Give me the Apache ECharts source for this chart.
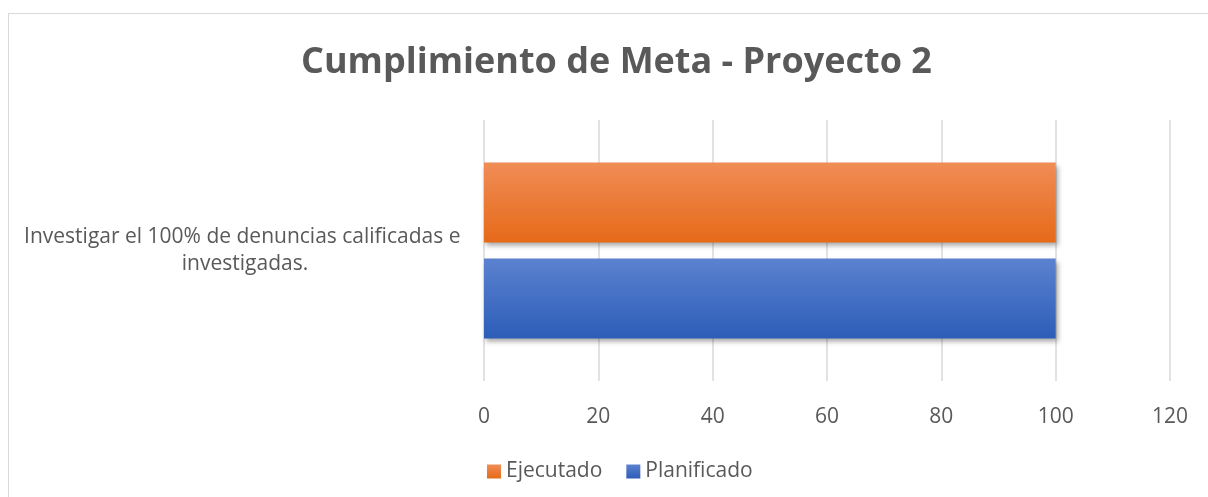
<!DOCTYPE html>
<html>
<head>
<meta charset="utf-8">
<script src="https://cdn.jsdelivr.net/npm/echarts@6/dist/echarts.min.js"></script>
<style>
  html, body { margin: 0; padding: 0; background: #fff; }
  #wrap { position: relative; width: 1208px; height: 497px; overflow: hidden; }
  #frame { position: absolute; left: 8px; top: 13px; width: 1300px; height: 600px; border: 1px solid #d9d9d9; }
  #chart { position: absolute; left: 0; top: 0; width: 1208px; height: 497px; }
</style>
</head>
<body>
<div id="wrap">
  <div id="frame"></div>
  <div id="chart"></div>
</div>
<script>
// datos
var categorias = ['Investigar el 100% de denuncias calificadas e investigadas.'];
var planificado = [100];
var ejecutado = [100];
var ticks = [0, 20, 40, 60, 80, 100, 120];

var fuente = '"Open Sans", "Noto Sans", sans-serif';
var gris = '#595959';

function degradado(c1, c2) { // color de barra con degradado vertical
  return new echarts.graphic.LinearGradient(0, 0, 0, 1, [
    { offset: 0, color: c1 },
    { offset: 1, color: c2 }
  ]);
}

var chart = echarts.init(document.getElementById('chart'));

var sombra = { shadowColor: 'rgba(0,0,0,0.35)', shadowBlur: 5, shadowOffsetX: 2, shadowOffsetY: 3 };

var option = {
  animation: false,
  title: {
    text: 'Cumplimiento de Meta - Proyecto 2',
    left: 296,
    top: 40,
    textStyle: { fontFamily: fuente, fontSize: 36, fontWeight: 'bold', color: gris }
  },
  legend: {
    data: ['Ejecutado', 'Planificado'],
    bottom: 10,
    left: 482,
    icon: 'rect',
    itemWidth: 14,
    itemHeight: 14,
    itemGap: 24,
    textStyle: { fontFamily: fuente, fontSize: 21, color: gris }
  },
  grid: { left: 484, right: 38, top: 120, bottom: 116 },
  xAxis: {
    type: 'value',
    min: ticks[0],
    max: ticks[ticks.length - 1],
    interval: 20,
    axisLine: { show: false },
    axisTick: { show: false },
    splitLine: { lineStyle: { color: '#d9d9d9', width: 1.5 } },
    axisLabel: { margin: 26, fontFamily: fuente, fontSize: 21, color: gris }
  },
  yAxis: {
    type: 'category',
    data: categorias,
    axisLine: { show: false },
    axisTick: { show: false },
    axisLabel: {
      align: 'center',
      margin: 239,
      width: 462,
      overflow: 'break',
      lineHeight: 27,
      padding: [3, 0, 0, 0],
      fontFamily: fuente, fontSize: 21, color: gris
    }
  },
  series: [
    {
      name: 'Ejecutado',
      type: 'bar',
      data: ejecutado,
      barWidth: 80,
      barGap: '20%',
      itemStyle: Object.assign({ color: degradado('#f08c56', '#e66a19') }, sombra)
    },
    {
      name: 'Planificado',
      type: 'bar',
      data: planificado,
      barWidth: 80,
      barGap: '20%',
      itemStyle: Object.assign({ color: degradado('#5b82cf', '#2d5db8') }, sombra)
    }
  ]
};

chart.setOption(option);
</script>
</body>
</html>
